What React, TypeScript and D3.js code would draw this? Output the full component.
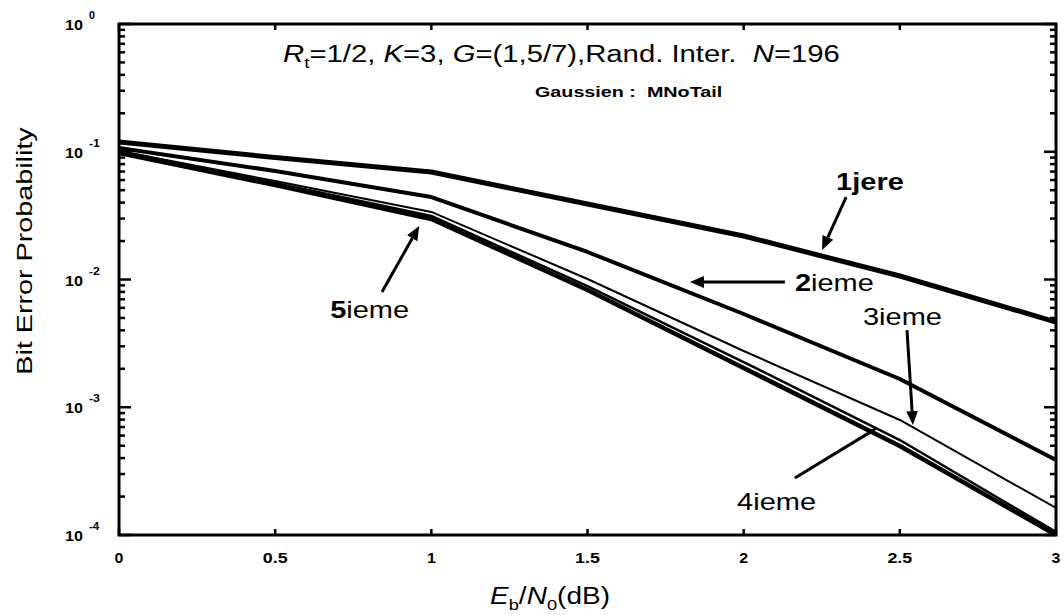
import React, { useLayoutEffect, useRef, useState } from "react";
import * as d3 from "d3";

const W = 1064;
const H = 615;
const FONT = "'Liberation Sans', Arial, Helvetica, sans-serif";
const SX = 1.26; // horizontal stretch of the scanned text

// Eb/N0 (dB)
const ebn0 = [0, 0.5, 1, 1.5, 2, 2.5, 3];
// Bit error probability per decoding iteration
const iter1 = [0.119, 0.0902, 0.0694, 0.039, 0.0219, 0.01065, 0.00465];
const iter2 = [0.107, 0.0707, 0.0442, 0.01642, 0.00537, 0.001664, 0.000387];
const iter3 = [0.1014, 0.059, 0.0338, 0.01009, 0.002757, 0.000795, 0.0001627];
const iter4 = [0.1014, 0.0569, 0.03143, 0.00889, 0.00226, 0.000554, 0.0001056];
const iter5 = [0.0978, 0.0549, 0.02976, 0.00828, 0.00203, 0.000497, 0.0001];
const seriesWidths = [5, 4, 2, 2.5, 4.5];

const xTicks = [0, 0.5, 1, 1.5, 2, 2.5, 3];
const xTickLabels = ["0", "0.5", "1", "1.5", "2", "2.5", "3"];
const yExponents = [0, -1, -2, -3, -4];

// annotations: label position (left, baseline), arrow tail and tip, in data units
const annotations = [
  { bold: "1jere", rest: "", lx: 2.296, ly: 0.0502, tail: [2.328, 0.0442], tip: [2.251, 0.017], head: 14 },
  { bold: "2", rest: "ieme", lx: 2.164, ly: 0.00813, tail: [2.132, 0.00956], tip: [1.828, 0.00956], head: 14 },
  { bold: "", rest: "3ieme", lx: 2.382, ly: 0.0044, tail: [2.523, 0.00402], tip: [2.542, 0.000726], head: 14 },
  { bold: "", rest: "4ieme", lx: 1.979, ly: 0.000157, tail: [2.164, 0.000279], tip: [2.427, 0.000688], head: 7 },
  { bold: "5", rest: "ieme", lx: 0.676, ly: 0.005, tail: [0.842, 0.00798], tip: [0.961, 0.0262], head: 14 },
];

function Fit(props: any) {
  const { x, y, width, anchor = "start", children, rotate = 0, ...rest } = props;
  const ref = useRef<SVGTextElement>(null);
  const [s, setS] = useState(SX);
  useLayoutEffect(() => {
    if (ref.current && width) {
      const w = ref.current.getBBox().width;
      if (w > 0) setS(width / w);
    }
  }, [width]);
  return (
    <g transform={`translate(${x},${y}) rotate(${rotate}) scale(${s},1)`}>
      <text ref={ref} x={0} y={0} textAnchor={anchor} fontFamily={FONT} {...rest}>
        {children}
      </text>
    </g>
  );
}

export default function App() {
  const left = 119, right = 1056, top = 24, bottom = 535;
  const x = d3.scaleLinear().domain([0, 3]).range([left, right]);
  const y = d3.scaleLog().domain([1e-4, 1]).range([bottom, top]);
  const line = d3
    .line<[number, number]>()
    .x((d) => x(d[0]))
    .y((d) => y(d[1]));

  const series = [iter1, iter2, iter3, iter4, iter5];

  const minor: number[] = [];
  for (let k = -4; k < 0; k++) for (let m = 2; m <= 9; m++) minor.push(m * Math.pow(10, k));

  const arrow = (a: any, i: number) => {
    const x1 = x(a.tail[0]), y1 = y(a.tail[1]);
    const x2 = x(a.tip[0]), y2 = y(a.tip[1]);
    const ang = Math.atan2(y2 - y1, x2 - x1);
    const L = a.head, hw = a.head * 0.42;
    const bx = x2 - L * Math.cos(ang), by = y2 - L * Math.sin(ang);
    const px = -Math.sin(ang), py = Math.cos(ang);
    const pts = [
      [x2, y2],
      [bx + px * hw, by + py * hw],
      [bx - px * hw, by - py * hw],
    ];
    return (
      <g key={"ar" + i}>
        <line x1={x1} y1={y1} x2={bx} y2={by} stroke="#000" strokeWidth={3} />
        <polygon points={pts.map((p) => p.join(",")).join(" ")} fill="#000" />
      </g>
    );
  };

  return (
    <svg width={W} height={H} style={{ position: "absolute", left: 0, top: 0, background: "#fff" }}>
      <rect x={0} y={0} width={W} height={H} fill="#fff" />
      <defs>
        <clipPath id="plot">
          <rect x={left} y={top} width={right - left} height={bottom - top} />
        </clipPath>
      </defs>

      {/* curves */}
      <g clipPath="url(#plot)" fill="none" stroke="#000" strokeLinejoin="round">
        {series.map((s, i) => (
          <path key={i} d={line(ebn0.map((v, j) => [v, s[j]]) as [number, number][]) || ""} strokeWidth={seriesWidths[i]} />
        ))}
      </g>

      {/* frame */}
      <rect x={left} y={top} width={right - left} height={bottom - top} fill="none" stroke="#000" strokeWidth={3} />

      {/* y ticks */}
      <g stroke="#000" strokeWidth={2.5}>
        {minor.map((v, i) => (
          <g key={"mn" + i}>
            <line x1={left} x2={left + 6} y1={y(v)} y2={y(v)} />
            <line x1={right} x2={right - 6} y1={y(v)} y2={y(v)} />
          </g>
        ))}
        {yExponents.map((e) => (
          <g key={"mj" + e}>
            <line x1={left} x2={left + 12} y1={y(Math.pow(10, e))} y2={y(Math.pow(10, e))} />
            <line x1={right} x2={right - 12} y1={y(Math.pow(10, e))} y2={y(Math.pow(10, e))} />
          </g>
        ))}
        {xTicks.map((t) => (
          <g key={"xt" + t}>
            <line x1={x(t)} x2={x(t)} y1={bottom} y2={bottom - 6} />
            <line x1={x(t)} x2={x(t)} y1={top} y2={top + 6} />
          </g>
        ))}
      </g>

      {/* x tick labels */}
      {xTicks.map((t, i) => (
        <Fit key={"xl" + t} x={x(t)} y={563} anchor="middle" fontSize={14} fontWeight="bold" width={xTickLabels[i].length > 1 ? 25 : 9}>
          {xTickLabels[i]}
        </Fit>
      ))}

      {/* y tick labels */}
      {yExponents.map((e) => (
        <g key={"yl" + e}>
          <Fit x={65} y={y(Math.pow(10, e)) + 6} fontSize={15} fontWeight="bold" width={18}>
            10
          </Fit>
          <Fit x={89} y={y(Math.pow(10, e)) - 5} fontSize={10} fontWeight="bold" width={e === 0 ? 6 : 11}>
            {e === 0 ? "0" : "-" + Math.abs(e)}
          </Fit>
        </g>
      ))}

      {/* axis labels */}
      <Fit x={550} y={604} anchor="middle" fontSize={23} width={120}>
        <tspan fontStyle="italic">E</tspan>
        <tspan fontSize={15} dy={6}>b</tspan>
        <tspan dy={-6}>/</tspan>
        <tspan fontStyle="italic">N</tspan>
        <tspan fontSize={15} dy={6}>0</tspan>
        <tspan dy={-6}>(dB)</tspan>
      </Fit>
      <Fit x={32} y={251} rotate={-90} anchor="middle" fontSize={22} width={248}>
        Bit Error Probability
      </Fit>

      {/* title */}
      <Fit x={283} y={62} fontSize={23} width={557}>
        <tspan fontStyle="italic">R</tspan>
        <tspan fontSize={15} dy={6}>t</tspan>
        <tspan dy={-6}>=1/2, </tspan>
        <tspan fontStyle="italic">K</tspan>
        <tspan>=3, </tspan>
        <tspan fontStyle="italic">G</tspan>
        <tspan>=(1,5/7),Rand. Inter.{"\u00a0\u00a0"}</tspan>
        <tspan fontStyle="italic">N</tspan>
        <tspan>=196</tspan>
      </Fit>
      <Fit x={535} y={97} fontSize={14} fontWeight="bold" width={187}>
        {"Gaussien :\u00a0\u00a0MNoTail"}
      </Fit>

      {/* annotations */}
      {annotations.map(arrow)}
      {annotations.map((a, i) => (
        <Fit key={"an" + i} x={x(a.lx)} y={y(a.ly)} fontSize={23}>
          {a.bold && <tspan fontWeight="bold">{a.bold}</tspan>}
          {a.rest && <tspan>{a.rest}</tspan>}
        </Fit>
      ))}
    </svg>
  );
}
